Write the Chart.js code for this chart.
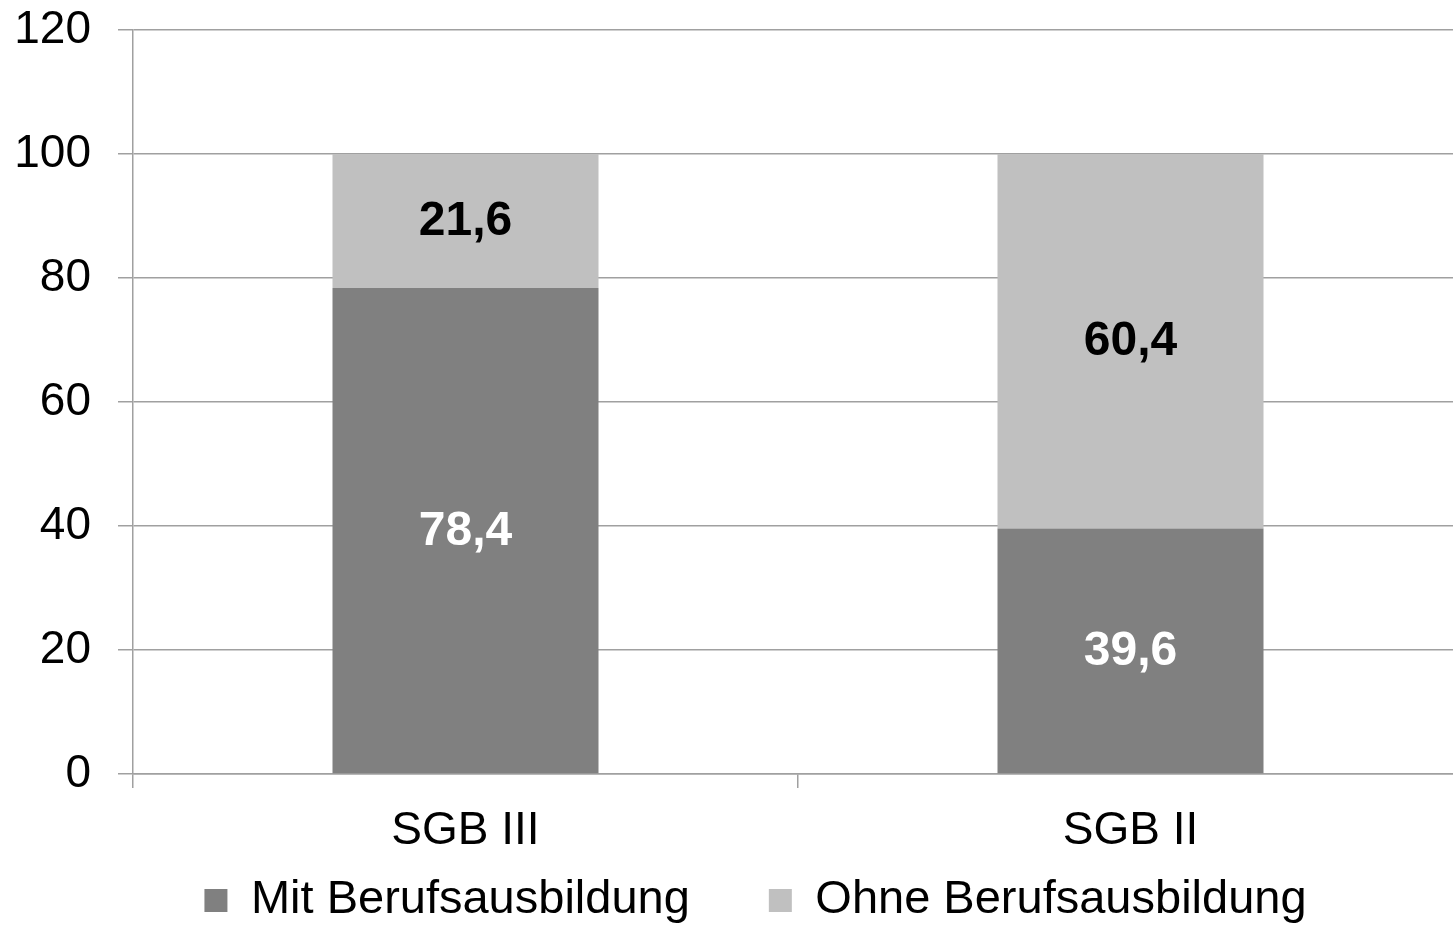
<!DOCTYPE html>
<html>
<head>
<meta charset="utf-8">
<script src="https://cdn.jsdelivr.net/npm/chart.js@4"></script>
<style>
    html, body { margin: 0; padding: 0; background: #fff; overflow: hidden; }
    #wrap { width: 1453px; height: 926px; overflow: hidden; }
</style>
</head>
<body>
<div id="wrap"><canvas id="berufChart" width="1463" height="926"></canvas></div>
<script>
// categories and shares in percent
const categories = ["SGB III", "SGB II"];
const mitBerufsausbildung = [78.4, 39.6];
const ohneBerufsausbildung = [21.6, 60.4];
const yTicks = [0, 20, 40, 60, 80, 100, 120];

const FONT = "'Liberation Sans', Arial, sans-serif";
const GRID = "#a0a0a0";

// writes the values into the middle of each bar segment
const segmentLabels = {
    id: "segmentLabels",
    afterDatasetsDraw(chart) {
        const ctx = chart.ctx;
        ctx.save();
        ctx.font = "bold 48px " + FONT;
        ctx.textAlign = "center";
        ctx.textBaseline = "middle";
        chart.data.datasets.forEach((ds, i) => {
            const meta = chart.getDatasetMeta(i);
            meta.data.forEach((bar, j) => {
                const { x, y, base } = bar.getProps(["x", "y", "base"], true);
                ctx.fillStyle = ds.labelColor;
                ctx.fillText(ds.data[j].toFixed(1).replace(".", ","), x, (y + base) / 2 + 1);
            });
        });
        ctx.restore();
    }
};

// fixed legend box height, then nudge the legend to where the original has it
const legendPlacement = {
    id: "legendPlacement",
    afterInit(chart) {
        const legend = chart.legend;
        const fit = legend.fit;
        legend.fit = function () {
            fit.call(this);
            this.height = 108;
        };
    },
    afterLayout(chart) {
        const legend = chart.legend;
        legend.left += 24;
        legend.right += 24;
        legend.top -= 20;
    }
};

const ctx = document.getElementById("berufChart").getContext("2d");
const berufChart = new Chart(ctx, {
    type: "bar",
    data: {
        labels: categories,
        datasets: [
            { label: "Mit Berufsausbildung", data: mitBerufsausbildung, backgroundColor: "#808080", labelColor: "#ffffff" },
            { label: "Ohne Berufsausbildung", data: ohneBerufsausbildung, backgroundColor: "#c0c0c0", labelColor: "#000000" }
        ]
    },
    options: {
        responsive: false,
        animation: false,
        layout: { padding: 0 },
        datasets: { bar: { categoryPercentage: 1, barPercentage: 0.4 } },
        scales: {
            x: {
                stacked: true,
                afterFit: scale => {
                    scale.height = 44;
                    // labels hang below the short axis box, so don't clip them
                    scale._computeLabelArea = () => undefined;
                },
                grid: { offset: true, drawOnChartArea: false, color: GRID, tickLength: 14, lineWidth: 1.5 },
                border: { color: GRID, width: 1.5 },
                ticks: { color: "#000", font: { family: FONT, size: 46 }, padding: 16 }
            },
            y: {
                stacked: true,
                min: 0,
                max: 120,
                afterBuildTicks: scale => { scale.ticks = yTicks.map(v => ({ value: v })); },
                afterFit: scale => { scale.width = 133; scale.paddingTop = 30; },
                grid: { color: GRID, tickLength: 15, lineWidth: 1.5 },
                border: { color: GRID, width: 1.5 },
                ticks: { color: "#000", font: { family: FONT, size: 46 }, padding: 27 }
            }
        },
        plugins: {
            legend: {
                position: "bottom",
                labels: {
                    color: "#000",
                    font: { family: FONT, size: 47 },
                    boxWidth: 23,
                    boxHeight: 23,
                    padding: 79
                }
            },
            tooltip: { enabled: false }
        }
    },
    plugins: [segmentLabels, legendPlacement]
});
</script>
</body>
</html>
